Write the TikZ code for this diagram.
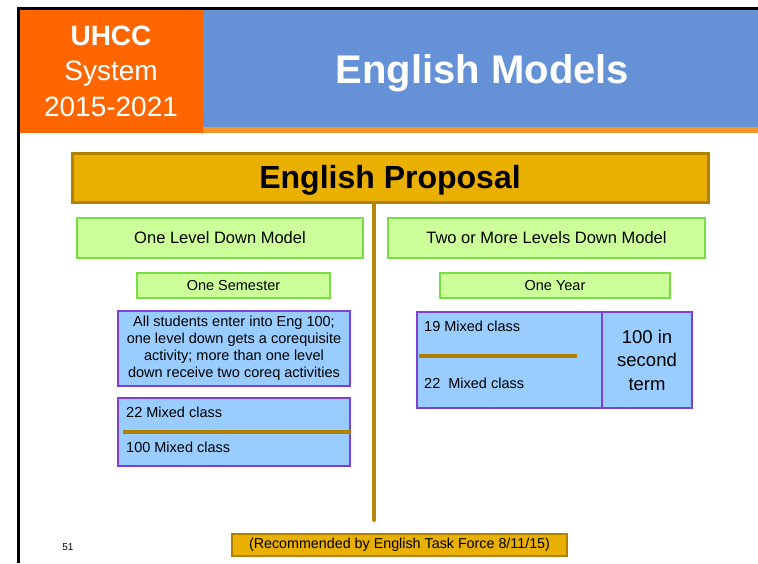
\documentclass[tikz,border=0pt]{standalone}
\usepackage{fontspec}
\setmainfont{Liberation Sans}
\usepackage{xcolor}
\usetikzlibrary{positioning,calc}
\definecolor{tagOrange}{HTML}{FF6600}
\definecolor{stripeOrange}{HTML}{F7962A}
\definecolor{headBlue}{HTML}{6592D6}
\definecolor{propGold}{HTML}{E9B000}
\definecolor{propEdge}{HTML}{B08000}
\definecolor{trunkBrown}{HTML}{B8860B}
\definecolor{modelGreen}{HTML}{CCFF99}
\definecolor{modelEdge}{HTML}{77DD44}
\definecolor{classBlue}{HTML}{99CCFF}
\definecolor{classEdge}{HTML}{7F3FD9}

\begin{document}
\begin{tikzpicture}[x=1pt,y=-1pt,
    fs/.style={font=\fontsize{#1}{#1}\selectfont},
    fsb/.style={font=\fontsize{#1}{#1}\selectfont\bfseries},
    model/.style={draw=modelEdge, line width=1.5pt, fill=modelGreen, inner sep=0pt},
    classbox/.style={draw=classEdge, line width=1.5pt, fill=classBlue, inner sep=0pt},
    gold/.style={draw=propEdge, line width=3pt, fill=propGold, inner sep=0pt},
    divider/.style={draw=propEdge, line width=4pt},
  ]
  \useasboundingbox[fill=white] (0,0) rectangle (758,563);
  \node[fill=headBlue, minimum width=555pt, minimum height=118pt, inner sep=0pt] (title) at (480.5,68) {};
  \node[text=white, fsb=40, inner sep=0pt] (titletext) at ($(title.center)+(2,5)$) {English Models};
  \fill[stripeOrange] (203,127) rectangle (758,133);
  \node[fill=tagOrange, minimum width=184pt, minimum height=124pt, inner sep=0pt,
        text=white, align=center, font=\fontsize{28}{35.5}\selectfont] (uhcc) at (111,71)
        {\textbf{UHCC}\\System\\2015-2021};
  \draw[line width=3pt] (18,563) -- (18,8) -- (758,8);

  \coordinate (trunkend) at (374,520);
  \node[gold, minimum width=636pt, minimum height=49pt] (proposal) at (390,177.5) {};
  \node[fsb=32, inner sep=0pt] (proposaltext) at ($(proposal.center)+(0,3)$) {English Proposal};
  \draw[trunkBrown, line width=4pt, line cap=round] (proposal.south -| trunkend) -- (trunkend);

  \node[model, minimum width=286pt, minimum height=40pt, fs=16.5] (onelevel) at (220,238) {One Level Down Model};
  \node[model, minimum width=317pt, minimum height=40pt, fs=16.5] (twolevel) at (546.5,238) {Two or More Levels Down Model};
  \node[model, minimum width=193pt, minimum height=25pt, fs=14.5] (onesem) at (233.5,285.5) {One Semester};
  \node[model, minimum width=230pt, minimum height=25pt, fs=14.5] (oneyear) at (555,285.5) {One Year};

  \node[classbox, minimum width=232pt, minimum height=75pt, align=center,
        font=\fontsize{14.5}{17}\selectfont] (entry) at (234,348.5)
        {All students enter into Eng 100;\\one level down gets a corequisite\\activity; more than one level\\down receive two coreq activities};
  \node[classbox, minimum width=232pt, minimum height=68pt] (leftclasses) at (234,432) {};
  \node[fs=14.5, anchor=west, inner sep=0pt] (leftA) at (126,412) {22 Mixed class};
  \node[fs=14.5, anchor=west, inner sep=0pt] (leftB) at (126,447) {100 Mixed class};
  \draw[divider] (leftclasses.west |- 0,432) ++(6,0) -- (leftclasses.east |- 0,432);

  \node[classbox, minimum width=185pt, minimum height=96pt] (rightclasses) at (509.5,360) {};
  \node[classbox, minimum width=90pt, minimum height=96pt, align=center,
        font=\fontsize{18.5}{23.5}\selectfont] (term) at (647,360) {100 in\\second\\term};
  \node[fs=14.5, anchor=west, inner sep=0pt] (rightA) at (424,326) {19 Mixed class};
  \node[fs=14.5, anchor=west, inner sep=0pt] (rightB) at (424,383) {22\ \ Mixed class};
  \draw[divider] (419,356) -- (577,356);

  \node[gold, line width=2pt, minimum width=335pt, minimum height=22pt, fs=14.3] (note) at (399.5,545)
        {(Recommended by English Task Force 8/11/15)};
  \node[fs=10, inner sep=0pt] (pagenum) at (68,547) {51};
\end{tikzpicture}
\end{document}
